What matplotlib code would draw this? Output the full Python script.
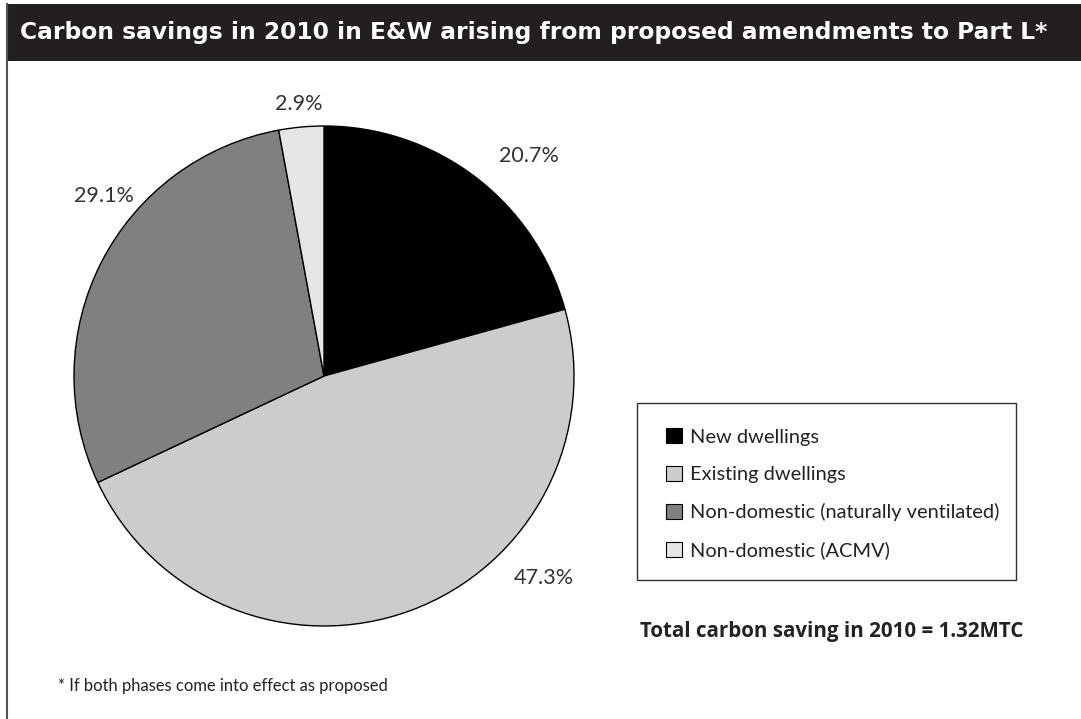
import matplotlib
matplotlib.use("Agg")
import matplotlib.pyplot as plt
from matplotlib.patches import Rectangle, Patch

W, H = 1081, 719

categories = ["New dwellings", "Existing dwellings",
              "Non-domestic (naturally ventilated)", "Non-domestic (ACMV)"]
shares = [20.7, 47.3, 29.1, 2.9]
colours = ["#000000", "#cccccc", "#808080", "#e6e6e6"]

title = "Carbon savings in 2010 in E&W arising from proposed amendments to Part L*"
total_note = "Total carbon saving in 2010 = 1.32MTC"
footnote = "* If both phases come into effect as proposed"

# where each percentage sits, in pie units (radius = 1)
label_pos = [(0.82, 0.88), (0.88, -0.81), (-0.88, 0.72), (-0.10, 1.09)]

body_font = "Lato"


def fx(px):
    return px / W


def fy(py):
    return 1 - py / H


fig = plt.figure(figsize=(W / 100, H / 100), dpi=100)
fig.patch.set_facecolor("white")

# dark title band and the thin rule down the left side
fig.add_artist(Rectangle((fx(6), fy(61)), fx(W) - fx(6), fy(4) - fy(61),
                         transform=fig.transFigure, facecolor="#231f20",
                         edgecolor="none"))
fig.add_artist(plt.Line2D([fx(6.5), fx(6.5)], [0, fy(4)],
                          transform=fig.transFigure, color="#555555", lw=1.5))
fig.text(fx(20), fy(33), title, color="white", fontsize=16.8, fontweight="bold",
         family="DejaVu Sans", va="center", ha="left")

# pie: centre (324, 376) px, radius 250 px
cx, cy, r = 324, 376, 250
ax = fig.add_axes([fx(cx - r * 1.4), fy(cy + r * 1.4),
                   fx(2.8 * r), 2.8 * r / H])
ax.pie(shares, colors=colours, startangle=90, counterclock=False,
       wedgeprops=dict(edgecolor="black", linewidth=1.0))
ax.set_xlim(-1.4, 1.4)
ax.set_ylim(-1.4, 1.4)
ax.set_aspect("equal")
ax.axis("off")

for val, (x, y) in zip(shares, label_pos):
    ax.text(x, y, f"{val}%", ha="center", va="center", fontsize=15.5,
            color="#333333", family=body_font)

# legend: box drawn separately, entries placed inside it
fig.add_artist(Rectangle((fx(637), fy(580)), fx(1016) - fx(637), fy(403) - fy(580),
                         transform=fig.transFigure, facecolor="white",
                         edgecolor="#333333", linewidth=1.0))
handles = [Patch(facecolor=c, edgecolor="black", linewidth=0.8) for c in colours]
leg = fig.legend(handles, categories, loc="upper left",
                 bbox_to_anchor=(fx(666), fy(428)), frameon=False,
                 prop=dict(family=body_font, size=14.4),
                 handlelength=0.8, handleheight=0.8, handletextpad=0.4,
                 labelspacing=1.0, borderpad=0, borderaxespad=0)
for t in leg.get_texts():
    t.set_color("#222222")

fig.text(fx(640), fy(632), total_note, fontsize=14.8, fontweight="bold",
         family="Open Sans", color="#222222", va="center", ha="left")
fig.text(fx(58), fy(686), footnote, fontsize=11.9, family=body_font,
         color="#222222", va="center", ha="left")

fig.savefig("out.png", dpi=100)
